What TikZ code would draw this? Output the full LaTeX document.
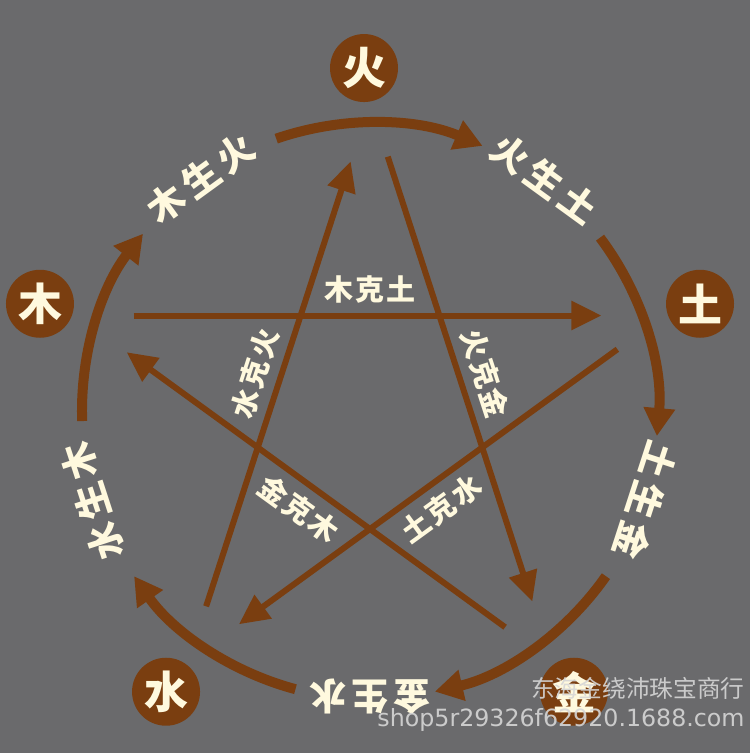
\documentclass[tikz,border=0pt]{standalone}
\usepackage{fontspec}
\usepackage{tikz}
\usetikzlibrary{
	arrows.meta,
	calc,
	positioning
}
\newfontfamily\cjk{Noto Sans CJK SC}
\newfontfamily\cjkwide[LetterSpace=15]{Noto Sans CJK SC}
\newfontfamily\cjkinner[LetterSpace=8]{Noto Sans CJK SC}
\newfontfamily\wmfont{DejaVu Sans}
\definecolor{wxbrown}{RGB}{122,62,16}
\definecolor{wxgray}{RGB}{106,106,108}
\definecolor{wxcream}{RGB}{255,249,222}
\definecolor{wxmark}{RGB}{214,214,214}

\begin{document}
\begin{tikzpicture} [
		x = 0.02cm,
		y = 0.02cm,
		element/.style = {
			circle,
			fill = wxbrown,
			text = wxcream,
			minimum size = 1.36cm,
			inner sep = 0pt,
			font = \cjk\bfseries\fontsize{25}{25}\selectfont
		},
		sheng/.style = {
			draw = wxbrown,
			line width = 0.2cm,
			-{Triangle[length = 0.56cm, width = 0.6cm]}
		},
		sheng-caption/.style = {
			text = wxcream,
			inner sep = 0pt,
			font = \cjkwide\bfseries\fontsize{21}{21}\selectfont
		},
		ke/.style = {
			draw = wxbrown,
			line width = 0.12cm,
			shorten < = 1.15cm,
			shorten > = 1.25cm,
			-{Triangle[length = 0.6cm, width = 0.56cm]}
		},
		ke-caption/.style = {
			text = wxcream,
			inner sep = 5pt,
			sloped,
			font = \cjkinner\bfseries\fontsize{16.5}{16.5}\selectfont
		},
		watermark/.style = {
			text = wxmark,
			opacity = 0.9,
			anchor = east,
			inner sep = 0pt
		}
	]

	\fill[wxgray] (-370,-342) rectangle (380,411);
	\useasboundingbox (-370,-342) rectangle (380,411);

	% the five elements
	\node[element] (huo) at (91:343) {火};
	\node[element] (tu) at (18:347) {土};
	\node[element] (jin) at (-54:347) {金};
	\node[element] (shui) at (-126:347) {水};
	\node[element] (mu) at (162:347) {木};

	% generating cycle
	\node[sheng-caption, rotate = 36] (mu-huo) at (126:288) {木生火};
	\node[sheng-caption, rotate = -36] (huo-tu) at (53:290) {火生土};
	\node[sheng-caption, rotate = -108] (tu-jin) at (-18:290) {土生金};
	\node[sheng-caption, rotate = 180] (jin-shui) at (-90:286) {金生水};
	\node[sheng-caption, rotate = 108] (shui-mu) at (198:292) {水生木};

	\coordinate (a-huo) at (109:288);
	\coordinate (a-tu) at (37:288);
	\coordinate (a-jin) at (-35:288);
	\coordinate (a-shui) at (-105:288);
	\coordinate (a-mu) at (-178:288);

	\begin{scope} [
			every path/.style = sheng
		]
		\path (a-huo) arc[start angle = 109, end angle = 67, radius = 288];
		\path (a-tu) arc[start angle = 37, end angle = -5, radius = 288];
		\path (a-jin) arc[start angle = -35, end angle = -77, radius = 288];
		\path (a-shui) arc[start angle = -105, end angle = -145, radius = 288];
		\path (a-mu) arc[start angle = 182, end angle = 142, radius = 288];
	\end{scope}

	% controlling cycle
	\coordinate (p-huo) at (90:309);
	\coordinate (p-tu) at (18:309);
	\coordinate (p-jin) at (-54:309);
	\coordinate (p-shui) at (-126:309);
	\coordinate (p-mu) at (162:309);

	\begin{scope} [
			every path/.style = ke,
			every node/.style = ke-caption
		]
		\path (p-mu) -- node[above] {木克土} (p-tu);
		\path (p-huo) -- node[above] {火克金} (p-jin);
		\path (p-tu) -- node[below] {土克水} (p-shui);
		\path (p-shui) -- node[above] {水克火} (p-huo);
		\path (p-jin) -- node[below] {金克木} (p-mu);
	\end{scope}

	\node[watermark, font = \cjk\fontsize{13.5}{13.5}\selectfont] (shop) at (375,-277) {东海金绕沛珠宝商行};
	\node[watermark, font = \wmfont\fontsize{13.5}{13.5}\selectfont] (url) at (375,-309) {shop5r29326f62920.1688.com};
\end{tikzpicture}
\end{document}
